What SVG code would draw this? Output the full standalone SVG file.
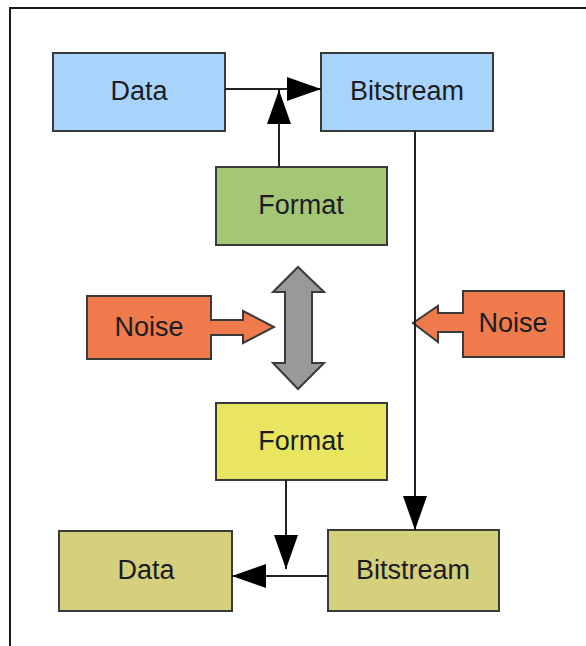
<svg xmlns="http://www.w3.org/2000/svg" width="586" height="646" viewBox="0 0 586 646">
<defs>
<marker id="ah" markerUnits="userSpaceOnUse" markerWidth="34" markerHeight="24" refX="34" refY="12" orient="auto">
<path d="M0,0 L34,12 L0,24 Z" fill="#000"/>
</marker>
<style>
.box{stroke:#3a3a3a;stroke-width:2}
.lbl{font-family:"Liberation Sans",Arial,sans-serif;font-size:27px;fill:#1c1c24;text-anchor:middle}
.con{stroke:#222;stroke-width:2;fill:none}
</style>
</defs>
<rect width="586" height="646" fill="#fff"/>
<path d="M10,646 L10,8 L586,8" fill="none" stroke="#1a1a1a" stroke-width="2"/>

<g id="data-top">
<rect class="box" x="53" y="53" width="172" height="78" fill="#a8d4fc"/>
<text class="lbl" x="139" y="100">Data</text>
</g>
<g id="bitstream-top">
<rect class="box" x="321" y="53" width="172" height="78" fill="#a8d4fc"/>
<text class="lbl" x="407" y="100">Bitstream</text>
</g>
<g id="format-top">
<rect class="box" x="216" y="167" width="171" height="78" fill="#a4c675"/>
<text class="lbl" x="301" y="214">Format</text>
</g>
<g id="noise-left">
<path class="box" d="M87,296 L211,296 L211,320 L243,320 L243,311 L274,327 L243,343 L243,335 L211,335 L211,359 L87,359 Z" fill="#ef7a4c"/>
<text class="lbl" x="149" y="336">Noise</text>
</g>
<g id="noise-right">
<path class="box" d="M463,291 L564,291 L564,357 L463,357 L463,332 L438,332 L438,342 L413,323 L438,306 L438,313 L463,313 Z" fill="#ef7a4c"/>
<text class="lbl" x="513" y="332">Noise</text>
</g>
<g id="channel">
<path class="box" d="M298,267 L324,292 L312,292 L312,363 L324,363 L298,389 L273,363 L285,363 L285,292 L273,292 Z" fill="#999"/>
</g>
<g id="format-bottom">
<rect class="box" x="216" y="403" width="171" height="77" fill="#e8e660"/>
<text class="lbl" x="301" y="450">Format</text>
</g>
<g id="data-bottom">
<rect class="box" x="59" y="531" width="173" height="80" fill="#d4d07c"/>
<text class="lbl" x="146" y="579">Data</text>
</g>
<g id="bitstream-bottom">
<rect class="box" x="328" y="530" width="171" height="81" fill="#d4d07c"/>
<text class="lbl" x="413" y="579">Bitstream</text>
</g>

<g id="connectors">
<line class="con" x1="225" y1="89" x2="321" y2="89" marker-end="url(#ah)"/>
<line class="con" x1="279" y1="167" x2="279" y2="90" marker-end="url(#ah)"/>
<line class="con" x1="415" y1="131" x2="415" y2="530" marker-end="url(#ah)"/>
<line class="con" x1="286" y1="480" x2="286" y2="569" marker-end="url(#ah)"/>
<line class="con" x1="328" y1="576" x2="232" y2="576" marker-end="url(#ah)"/>
</g>
</svg>
